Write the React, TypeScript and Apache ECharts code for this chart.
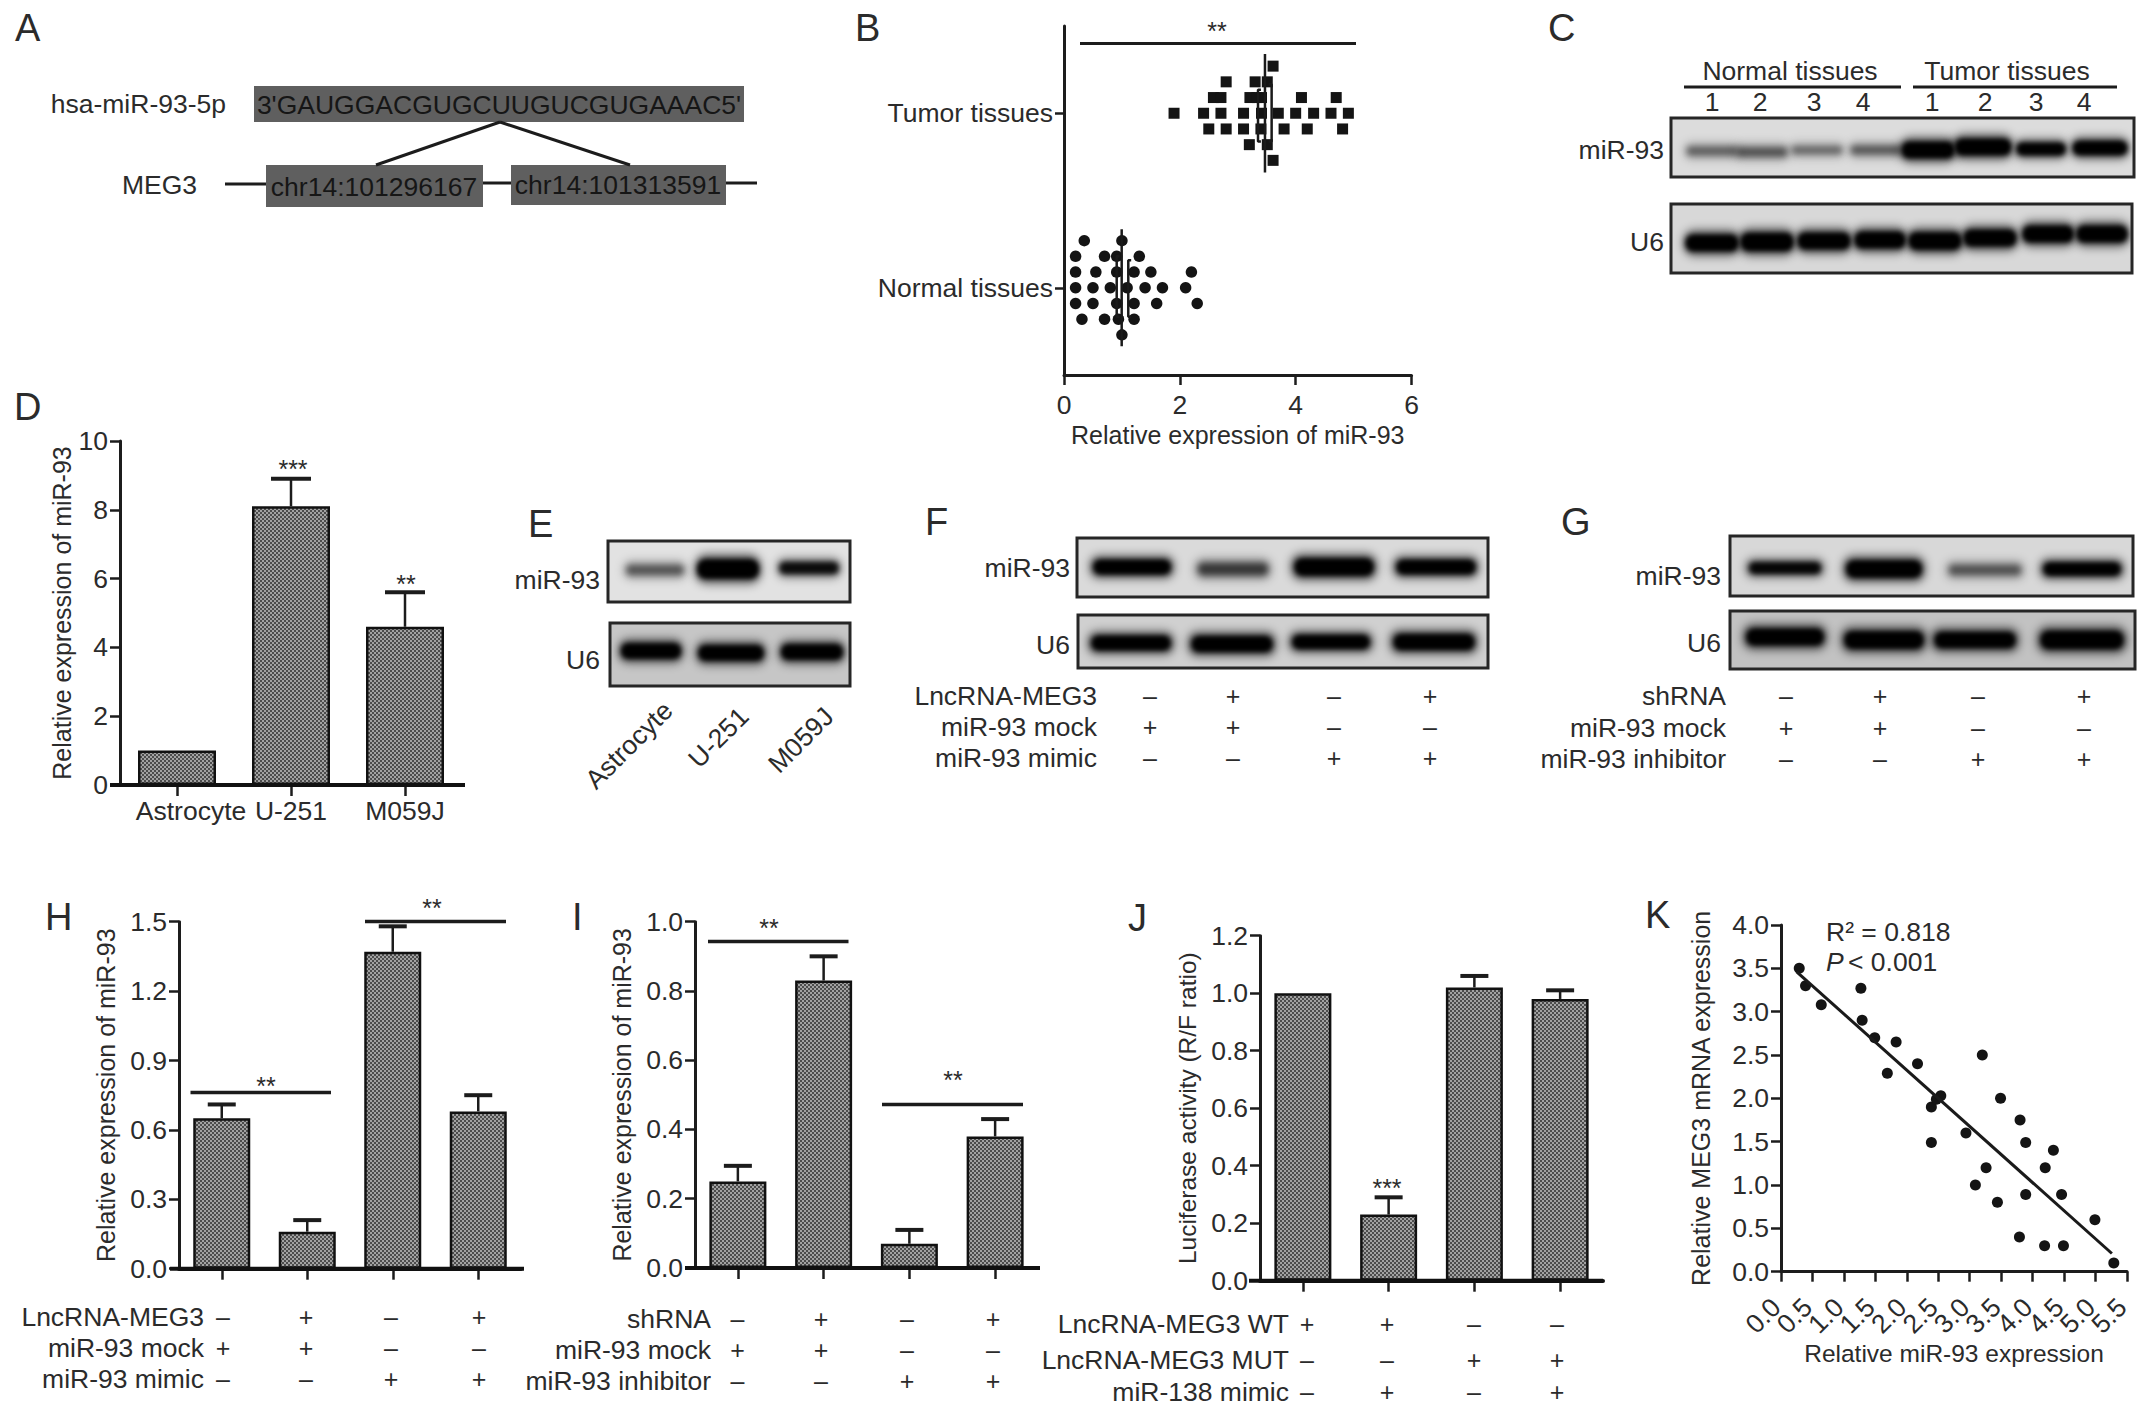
import React, { useEffect, useRef } from "react";
import * as echarts from "echarts";

const FONT = "'Liberation Sans', Arial, sans-serif";
const INK = "#2b2b2b";
const BAR = "#111111";

// ---- data ----
const dCats = ["Astrocyte", "U-251", "M059J"];
const dMeans = [1.0, 8.1, 4.6];
const dTops = [1.0, 8.9, 5.6];

const hCats = ["Group 1", "Group 2", "Group 3", "Group 4"];
const hMeans = [0.65, 0.16, 1.37, 0.68];
const hTops = [0.71, 0.21, 1.48, 0.75];
const iMeans = [0.25, 0.83, 0.07, 0.38];
const iTops = [0.295, 0.9, 0.11, 0.43];
const jMeans = [1.0, 0.23, 1.02, 0.98];
const jTops = [1.0, 0.29, 1.06, 1.01];

const bCats = ["Normal tissues", "Tumor tissues"];
// each row of the dot plots: expression values, row +3 (top) to row -3 (bottom)
const tumorRows = [
  [3.61],
  [2.8, 3.3, 3.51],
  [2.58, 2.71, 3.21, 3.33, 3.41, 4.1, 4.7],
  [1.9, 2.41, 2.71, 3.1, 3.41, 3.7, 4.0, 4.31, 4.61, 4.91],
  [2.5, 2.8, 3.1, 3.4, 3.8, 4.2, 4.81],
  [3.2, 3.51],
  [3.61],
];
const normalRows = [
  [0.35, 1.0],
  [0.2, 0.7, 0.91, 1.3],
  [0.2, 0.55, 0.91, 1.21, 1.5, 2.2],
  [0.2, 0.5, 0.8, 1.09, 1.4, 1.7, 2.1],
  [0.2, 0.5, 0.91, 1.21, 1.6, 2.3],
  [0.31, 0.7, 0.94, 1.21],
  [1.0],
];
const tumorStats = { mean: 3.47, low: 3.35, high: 3.585 };
const normalStats = { mean: 0.996, low: 0.91, high: 1.11 };

const kPoints = [
  [0.29, 3.5], [0.39, 3.3], [0.64, 3.08], [1.27, 3.27], [1.29, 2.9], [1.49, 2.7],
  [1.83, 2.65], [1.69, 2.29], [2.17, 2.4], [2.39, 1.9], [2.39, 1.49], [2.47, 1.99],
  [2.54, 2.03], [2.94, 1.6], [3.2, 2.5], [3.26, 1.2], [3.09, 1.0], [3.44, 0.8],
  [3.49, 2.0], [3.8, 1.75], [3.89, 1.49], [3.89, 0.89], [3.79, 0.4], [4.2, 1.2],
  [4.33, 1.4], [4.46, 0.89], [4.19, 0.3], [4.49, 0.3], [4.99, 0.6], [5.29, 0.1],
];
const kTrend = [[0.25, 3.46], [5.26, 0.21]];
const kTicksOverlay = [0.5, 5.0];

const fRows: [string, string][] = [
  ["LncRNA-MEG3", "−+−+"],
  ["miR-93 mock", "++−−"],
  ["miR-93 mimic", "−−++"],
];
const gRows: [string, string][] = [
  ["shRNA", "−+−+"],
  ["miR-93 mock", "++−−"],
  ["miR-93 inhibitor", "−−++"],
];
const hRows = fRows;
const iRows = gRows;
const jRows: [string, string][] = [
  ["LncRNA-MEG3 WT", "++−−"],
  ["LncRNA-MEG3 MUT", "−−++"],
  ["miR-138 mimic", "−+−+"],
];

// ---- helpers ----
function txt(text: string, x: number, y: number, o: any = {}) {
  return {
    type: "text",
    x,
    y,
    z: 20,
    rotation: o.rotation || 0,
    style: {
      text,
      x: 0,
      y: 0,
      fill: o.fill || INK,
      fontFamily: FONT,
      fontSize: o.size || 26.5,
      fontStyle: o.italic ? "italic" : "normal",
      align: o.align || "left",
      verticalAlign: "middle",
    },
  };
}
function seg(x1: number, y1: number, x2: number, y2: number, w = 3, c = "#1c1c1c") {
  return { type: "line", z: 20, shape: { x1, y1, x2, y2 }, style: { stroke: c, lineWidth: w } };
}
function stars(s: string, x: number, y: number) {
  return txt(s, x, y, { align: "center", size: 25 });
}
function table(rows: [string, string][], labelX: number, colX: number[], rowY: number[]) {
  const out: any[] = [];
  rows.forEach((r, i) => {
    out.push(txt(r[0], labelX, rowY[i], { align: "right" }));
    Array.from(r[1]).forEach((s, j) => {
      out.push(txt(s === "−" ? "–" : "+", colX[j], rowY[i], { align: "center", size: 25 }));
    });
  });
  return out;
}

type Band = [number, number, number, number, number]; // cx, cy, w, h, darkness
function blot(x: number, y: number, w: number, h: number, bg: string, bands: Band[]) {
  const c = document.createElement("canvas");
  c.width = w;
  c.height = h;
  const g = c.getContext("2d") as CanvasRenderingContext2D;
  g.fillStyle = bg;
  g.fillRect(0, 0, w, h);
  bands.forEach(([cx, cy, bw, bh, d]) => {
    const draw = (ww: number, hh: number, alpha: number, blur: number) => {
      (g as any).filter = `blur(${blur}px)`;
      g.fillStyle = `rgba(0,0,0,${alpha})`;
      g.beginPath();
      (g as any).roundRect(cx - x - ww / 2, cy - y - hh / 2, ww, hh, hh / 2.4);
      g.fill();
    };
    draw(bw, bh + 6, 0.45 * d, 4);
    draw(bw * 0.9, bh * 0.75, Math.min(1, d * 1.05), 3);
    if (d > 0.7) draw(bw * 0.85, bh * 0.6, 0.95 * d, 2.5);
  });
  (g as any).filter = "none";
  return [
    { type: "image", x, y, z: 5, style: { image: c.toDataURL(), width: w, height: h } },
    { type: "rect", z: 6, shape: { x, y, width: w, height: h }, style: { fill: "none", stroke: "#262626", lineWidth: 3 } },
  ];
}

function hatch() {
  const c = document.createElement("canvas");
  c.width = 4;
  c.height = 4;
  const g = c.getContext("2d") as CanvasRenderingContext2D;
  g.fillStyle = "#a2a2a2";
  g.fillRect(0, 0, 4, 4);
  g.fillStyle = "#4c4c4c";
  g.fillRect(0, 0, 2, 2);
  g.fillRect(2, 2, 2, 2);
  return { image: c, repeat: "repeat", imageWidth: 4, imageHeight: 4 } as any;
}

const axisText = { color: INK, fontFamily: FONT, fontSize: 26.5 };
const axisLn = { show: true, lineStyle: { color: "#1c1c1c", width: 3 } };
const tickLn = (len: number) => ({ show: true, length: len, lineStyle: { color: "#1c1c1c", width: 2.5 } });

function valueAxis(gridIndex: number, max: number, interval: number, name: string, gap: number, digits: number, nameSize = 25) {
  return {
    type: "value",
    gridIndex,
    min: 0,
    max,
    interval,
    name,
    nameLocation: "middle",
    nameRotate: 90,
    nameGap: gap,
    nameTextStyle: { color: INK, fontFamily: FONT, fontSize: nameSize },
    axisLine: axisLn,
    axisTick: tickLn(10),
    axisLabel: { ...axisText, margin: 12, formatter: (v: number) => v.toFixed(digits) },
    splitLine: { show: false },
  };
}
function catAxis(gridIndex: number, data: any[], showLabel: boolean) {
  return {
    type: "category",
    gridIndex,
    data,
    axisLine: { show: true, lineStyle: { color: "#111", width: 4 } },
    axisTick: { ...tickLn(11), alignWithLabel: true },
    axisLabel: { ...axisText, show: showLabel, interval: 0, margin: 12 },
    splitLine: { show: false },
  };
}
function errorSeries(ax: number, means: number[], tops: number[], cap: number) {
  return {
    type: "custom",
    xAxisIndex: ax,
    yAxisIndex: ax,
    z: 4,
    silent: true,
    data: means.map((m, i) => [i, m, tops[i]]),
    encode: { x: 0, y: [1, 2] },
    renderItem: (_: any, api: any) => {
      const i = api.value(0);
      const a = api.coord([i, api.value(1)]);
      const b = api.coord([i, api.value(2)]);
      if (api.value(1) === api.value(2)) return { type: "group", children: [] };
      return {
        type: "group",
        children: [
          { type: "line", shape: { x1: a[0], y1: a[1], x2: b[0], y2: b[1] }, style: { stroke: "#1c1c1c", lineWidth: 2.5 } },
          { type: "line", shape: { x1: b[0] - cap, y1: b[1], x2: b[0] + cap, y2: b[1] }, style: { stroke: "#1c1c1c", lineWidth: 4 } },
        ],
      };
    },
  };
}
function barSeries(ax: number, values: number[], width: number, pattern: any) {
  return {
    type: "bar",
    xAxisIndex: ax,
    yAxisIndex: ax,
    data: values,
    barWidth: width,
    z: 3,
    itemStyle: { color: pattern, borderColor: BAR, borderWidth: 2.5 },
  };
}
function whisker(x: number, y0: number, y1: number, cap: number) {
  const d: number[][] = [];
  if (cap) d.push([x + cap, y0]);
  d.push([x, y0], [x, y1]);
  if (cap) d.push([x + cap, y1]);
  return {
    type: "line",
    xAxisIndex: 4,
    yAxisIndex: 6,
    data: d,
    showSymbol: false,
    symbol: "none",
    z: 6,
    lineStyle: { color: "#1a1a1a", width: 2.5 },
  };
}

const ROW = 0.09;
function rowsToPoints(rows: number[][], centre: number) {
  const p: number[][] = [];
  rows.forEach((r, i) => r.forEach((v) => p.push([v, centre + (3 - i) * ROW])));
  return p;
}

function buildOption() {
  const pattern = hatch();
  const grids = [
    { left: 120, top: 441, width: 342, height: 344 }, // D
    { left: 179, top: 921.7, width: 342, height: 347 }, // H
    { left: 695, top: 921.7, width: 343, height: 346.3 }, // I
    { left: 1260, top: 935.7, width: 343, height: 345 }, // J
    { left: 1064, top: 26, width: 347.5, height: 349 }, // B
    { left: 1781, top: 925, width: 346, height: 346.7 }, // K
  ];
  const kLabel = {
    ...axisText,
    rotate: 45,
    margin: 26,
    padding: [0, 7, 0, 0],
    formatter: (v: number) => v.toFixed(1),
  };
  const xAxis: any[] = [
    { ...catAxis(0, [{ value: dCats[0], textStyle: { padding: [0, 0, 0, 28] } }, dCats[1], dCats[2]], true) },
    catAxis(1, hCats, false),
    catAxis(2, hCats, false),
    catAxis(3, hCats, false),
    {
      type: "value",
      gridIndex: 4,
      min: 0,
      max: 6,
      interval: 2,
      name: "Relative expression of miR-93",
      nameLocation: "middle",
      nameGap: 47,
      nameTextStyle: { color: INK, fontFamily: FONT, fontSize: 25 },
      axisLine: axisLn,
      axisTick: tickLn(10),
      axisLabel: { ...axisText, margin: 16 },
      splitLine: { show: false },
    },
    {
      type: "value",
      gridIndex: 5,
      position: "bottom",
      min: 0,
      max: 5.5,
      interval: 0.5,
      name: "Relative miR-93 expression",
      nameLocation: "middle",
      nameGap: 69,
      nameTextStyle: { color: INK, fontFamily: FONT, fontSize: 24.5 },
      axisLine: axisLn,
      axisTick: tickLn(10),
      axisLabel: { ...kLabel, showMinLabel: true, showMaxLabel: true },
      splitLine: { show: false },
    },
    {
      // overlay axis: restores the two tick labels the main axis drops next to its ends
      type: "value",
      gridIndex: 5,
      position: "bottom",
      min: 0,
      max: 5.5,
      interval: 0.5,
      axisLine: { show: false },
      axisTick: { ...tickLn(10), customValues: kTicksOverlay },
      axisLabel: { ...kLabel, customValues: kTicksOverlay },
      splitLine: { show: false },
    },
  ];
  const yAxis: any[] = [
    valueAxis(0, 10, 2, "Relative expression of miR-93", 45, 0),
    valueAxis(1, 1.5, 0.3, "Relative expression of miR-93", 61, 1),
    valueAxis(2, 1.0, 0.2, "Relative expression of miR-93", 61, 1),
    valueAxis(3, 1.2, 0.2, "Luciferase activity (R/F ratio)", 60, 1, 24.5),
    {
      type: "category",
      gridIndex: 4,
      data: bCats,
      axisLine: axisLn,
      axisTick: { ...tickLn(9), alignWithLabel: true },
      axisLabel: { ...axisText, margin: 11, interval: 0 },
      splitLine: { show: false },
    },
    valueAxis(5, 4, 0.5, "Relative MEG3 mRNA expression", 68, 1),
    { type: "value", gridIndex: 4, min: 0, max: 2, show: false, splitLine: { show: false } },
  ];

  const series: any[] = [
    barSeries(0, dMeans, 78, pattern),
    errorSeries(0, dMeans, dTops, 20),
    barSeries(1, hMeans, 57, pattern),
    errorSeries(1, hMeans, hTops, 14),
    barSeries(2, iMeans, 57, pattern),
    errorSeries(2, iMeans, iTops, 14),
    barSeries(3, jMeans, 57, pattern),
    errorSeries(3, jMeans, jTops, 14),
    {
      type: "scatter",
      xAxisIndex: 4,
      yAxisIndex: 6,
      data: rowsToPoints(tumorRows, 1.5),
      symbol: "rect",
      symbolSize: 11,
      itemStyle: { color: "#141414", opacity: 1 },
      z: 5,
    },
    {
      type: "scatter",
      xAxisIndex: 4,
      yAxisIndex: 6,
      data: rowsToPoints(normalRows, 0.5),
      symbol: "circle",
      symbolSize: 11.5,
      itemStyle: { color: "#141414", opacity: 1 },
      z: 5,
    },
    whisker(tumorStats.mean, 1.5 - 3.77 * ROW, 1.5 + 3.77 * ROW, 0),
    whisker(tumorStats.low, 1.5 - 1.8 * ROW, 1.5 + 1.5 * ROW, 0.05),
    whisker(tumorStats.high, 1.5 - 1.8 * ROW, 1.5 + 1.85 * ROW, -0.05),
    whisker(normalStats.mean, 0.5 - 3.72 * ROW, 0.5 + 3.72 * ROW, 0),
    whisker(normalStats.low, 0.5 - 1.85 * ROW, 0.5 + 2 * ROW, 0.05),
    whisker(normalStats.high, 0.5 - 1.85 * ROW, 0.5 + 1.75 * ROW, 0.05),
    {
      type: "scatter",
      xAxisIndex: 5,
      yAxisIndex: 5,
      data: kPoints,
      symbol: "circle",
      symbolSize: 11,
      itemStyle: { color: "#141414", opacity: 1 },
      z: 5,
    },
    {
      type: "line",
      xAxisIndex: 5,
      yAxisIndex: 5,
      data: kTrend,
      symbol: "none",
      lineStyle: { color: "#1a1a1a", width: 3 },
      z: 6,
    },
  ];

  const panelLetter = (s: string, x: number, y: number) => txt(s, x, y, { size: 38 });
  const elements: any[] = [
    panelLetter("A", 15, 28),
    panelLetter("B", 855, 28),
    panelLetter("C", 1548, 28),
    panelLetter("D", 14, 407),
    panelLetter("E", 528, 524),
    panelLetter("F", 925, 522),
    panelLetter("G", 1561, 522),
    panelLetter("H", 45, 917),
    panelLetter("I", 572, 917),
    panelLetter("J", 1128, 918),
    panelLetter("K", 1645, 915),

    // A
    txt("hsa-miR-93-5p", 226, 104, { align: "right" }),
    { type: "rect", z: 5, shape: { x: 254, y: 86, width: 490, height: 36 }, style: { fill: "#5f5f5f" } },
    txt("3'GAUGGACGUGCUUGUCGUGAAAC5'", 499, 105, { align: "center", size: 26.5, fill: "#161616" }),
    seg(500, 122, 376, 165, 3),
    seg(500, 122, 630, 165, 3),
    txt("MEG3", 197, 185, { align: "right" }),
    seg(225, 184, 266, 184, 3),
    seg(483, 183, 511, 183, 3),
    seg(726, 183, 757, 183, 3),
    { type: "rect", z: 5, shape: { x: 266, y: 165, width: 217, height: 42 }, style: { fill: "#5f5f5f" } },
    { type: "rect", z: 5, shape: { x: 511, y: 165, width: 215, height: 40 }, style: { fill: "#5f5f5f" } },
    txt("chr14:101296167", 374, 187, { align: "center", fill: "#161616" }),
    txt("chr14:101313591", 618, 185, { align: "center", fill: "#161616" }),

    // B
    seg(1080, 43.5, 1356, 43.5, 3),
    stars("**", 1217, 31),

    // C
    ...blot(1671, 118, 463, 59, "#dcdcdc", [
      [1712, 151, 56, 12, 0.45], [1762, 152, 56, 13, 0.5], [1817, 150, 56, 11, 0.42], [1876, 150, 56, 12, 0.48],
      [1928, 150, 58, 22, 1], [1983, 147, 62, 22, 1], [2041, 149, 54, 16, 0.95], [2100, 148, 60, 18, 1],
    ]),
    ...blot(1671, 204, 461, 69, "#d8d8d8", [
      [1712, 243, 58, 22, 1], [1767, 242, 58, 24, 1], [1824, 241, 58, 22, 1], [1880, 240, 56, 22, 1],
      [1935, 241, 58, 23, 1], [1990, 238, 58, 22, 1], [2048, 234, 56, 22, 1], [2102, 234, 56, 22, 1],
    ]),
    txt("miR-93", 1664, 150, { align: "right" }),
    txt("U6", 1664, 242, { align: "right" }),
    txt("Normal tissues", 1790, 71, { align: "center" }),
    txt("Tumor tissues", 2007, 71, { align: "center" }),
    seg(1684, 87, 1901, 87, 3),
    seg(1913, 87, 2117, 87, 3),
    ...["1", "2", "3", "4"].map((s, i) => txt(s, [1712, 1760, 1814, 1863][i], 102, { align: "center" })),
    ...["1", "2", "3", "4"].map((s, i) => txt(s, [1932, 1985, 2036, 2084][i], 102, { align: "center" })),

    // D
    seg(110, 785, 465, 785, 4, "#111"),
    stars("***", 293, 469),
    stars("**", 406, 584),

    // E
    ...blot(608, 541, 242, 61, "#e2e2e2", [
      [655, 570, 64, 14, 0.5], [728, 569, 68, 26, 1], [809, 568, 66, 16, 0.75],
    ]),
    ...blot(610, 623, 240, 63, "#c6c6c6", [
      [651, 651, 66, 20, 1], [731, 653, 72, 20, 1], [812, 652, 68, 20, 1],
    ]),
    txt("miR-93", 600, 580, { align: "right" }),
    txt("U6", 600, 660, { align: "right" }),
    txt("Astrocyte", 668, 706, { align: "right", rotation: Math.PI / 4 }),
    txt("U-251", 744, 712, { align: "right", rotation: Math.PI / 4 }),
    txt("M059J", 829, 712, { align: "right", rotation: Math.PI / 4 }),

    // F
    ...blot(1077, 538, 411, 59, "#dadada", [
      [1132, 567, 86, 19, 1], [1233, 569, 78, 17, 0.62], [1334, 567, 88, 23, 1], [1436, 567, 88, 19, 0.95],
    ]),
    ...blot(1078, 615, 410, 53, "#d0d0d0", [
      [1131, 643, 88, 19, 1], [1232, 644, 90, 21, 1], [1331, 642, 86, 18, 1], [1434, 642, 90, 21, 1],
    ]),
    txt("miR-93", 1070, 568, { align: "right" }),
    txt("U6", 1070, 645, { align: "right" }),
    ...table(fRows, 1097, [1150, 1233, 1334, 1430], [696, 727, 758]),

    // G
    ...blot(1730, 536, 403, 60, "#d8d8d8", [
      [1785, 568, 80, 15, 0.85], [1884, 569, 84, 23, 1], [1985, 570, 80, 14, 0.5], [2082, 569, 86, 17, 1],
    ]),
    ...blot(1730, 611, 405, 58, "#c2c2c2", [
      [1785, 637, 86, 22, 1], [1884, 640, 88, 23, 1], [1975, 640, 90, 21, 1], [2082, 640, 92, 24, 1],
    ]),
    txt("miR-93", 1721, 576, { align: "right" }),
    txt("U6", 1721, 643, { align: "right" }),
    ...table(gRows, 1726, [1786, 1880, 1978, 2084], [696, 728, 759]),

    // H
    seg(170, 1268.7, 524, 1268.7, 4, "#111"),
    seg(190.5, 1092.6, 331, 1092.6, 3.5),
    seg(365, 921.4, 506, 921.4, 3.5),
    stars("**", 266, 1086.4),
    stars("**", 432, 907.6),
    ...table(hRows, 204, [223, 306, 391, 479], [1316.6, 1347.7, 1379]),

    // I
    seg(685, 1268, 1040, 1268, 4, "#111"),
    seg(708, 941.5, 848.5, 941.5, 3.5),
    seg(882, 1104.6, 1023, 1104.6, 3.5),
    stars("**", 769, 928),
    stars("**", 953, 1080),
    ...table(iRows, 711, [737.5, 821, 907, 993], [1318.6, 1350, 1381]),

    // J
    seg(1249, 1280.7, 1603, 1280.7, 4, "#111"),
    stars("***", 1387, 1188),
    ...table(jRows, 1289, [1307, 1387, 1474, 1557], [1323.8, 1360, 1391.8]),

    // K
    txt("R² = 0.818", 1826, 932),
    txt("P", 1826, 962, { italic: true }),
    txt("< 0.001", 1848, 962),
  ];

  return {
    animation: false,
    backgroundColor: "#ffffff",
    grid: grids,
    xAxis,
    yAxis,
    series,
    graphic: { elements },
  };
}

export default function App() {
  const ref = useRef<HTMLDivElement>(null);
  useEffect(() => {
    if (!ref.current) return;
    const chart = echarts.init(ref.current, undefined, { renderer: "svg" });
    chart.setOption(buildOption() as any);
    return () => chart.dispose();
  }, []);
  return <div ref={ref} style={{ position: "absolute", left: 0, top: 0, width: 2150, height: 1416 }} />;
}
